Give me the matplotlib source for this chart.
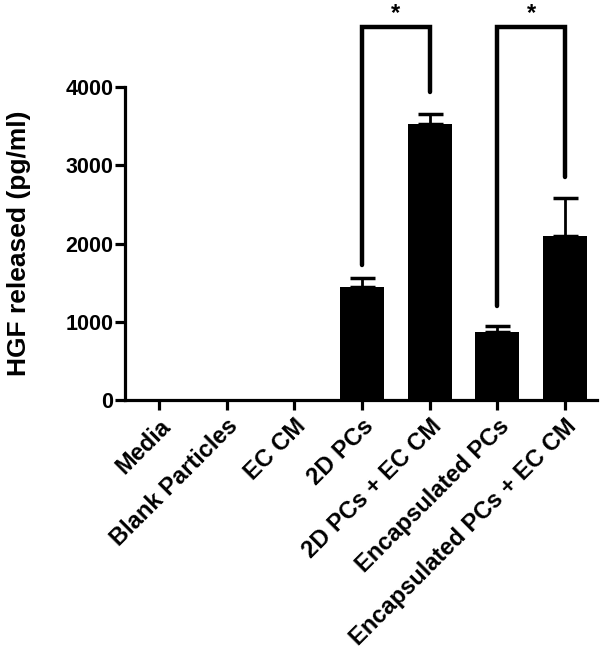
import matplotlib
matplotlib.use("Agg")
import matplotlib.pyplot as plt
import numpy as np

plt.rcParams['font.family'] = ['Liberation Sans', 'DejaVu Sans']
plt.rcParams['font.weight'] = 'bold'

groups = ["Media", "Blank Particles", "EC CM", "2D PCs", "2D PCs + EC CM",
          "Encapsulated PCs", "Encapsulated PCs + EC CM"]
means = [12, 0, 0, 1445, 3530, 870, 2100]
sems = [0, 0, 0, 115, 125, 75, 480]

# significance brackets: (left bar, right bar, left leg end, right leg end)
brackets = [(3, 4, 1720, 3940), (5, 6, 1200, 2850)]
bracket_top = 4760
star_y = 4930

fig = plt.figure(figsize=(6.04, 6.55), dpi=100)
ax = fig.add_axes([0.207, 0.389, 0.781, 0.598])

x = np.arange(len(groups))
ax.bar(x, means, width=0.65, color="black", zorder=2)
ax.errorbar(x[3:], np.array(means[3:]), yerr=[np.zeros(4), np.array(sems[3:])],
            fmt="none", ecolor="black", elinewidth=2, capsize=9, capthick=2.5, zorder=1)

for l, r, yl, yr in brackets:
    ax.plot([x[l], x[l], x[r], x[r]], [yl, bracket_top, bracket_top, yr],
            color="black", lw=3.2, solid_capstyle="round", solid_joinstyle="miter",
            clip_on=False)
    ax.text((x[l] + x[r]) / 2, star_y, "*", ha="center", va="center",
            fontsize=17, fontweight="bold", clip_on=False)

ax.set_xlim(-0.5, 6.47)
ax.set_ylim(0, 5000)
ax.spines["top"].set_visible(False)
ax.spines["right"].set_visible(False)
ax.spines["left"].set_bounds(0, 4000)
for s in ["left", "bottom"]:
    ax.spines[s].set_linewidth(2.3)
ax.set_yticks([0, 1000, 2000, 3000, 4000])
ax.set_xticks(x)
ax.set_xticklabels(groups, rotation=45, ha="right", va="top", rotation_mode="anchor",
                   fontsize=17, fontweight="bold")
ax.tick_params(axis="both", width=2.3, length=7.5, labelsize=15.5, pad=1)
ax.tick_params(axis="x", labelsize=17, pad=3)
for t in ax.get_yticklabels():
    t.set_fontweight("bold")
ax.set_ylabel("HGF released (pg/ml)", fontsize=19, fontweight="bold")
ax.yaxis.set_label_coords(-0.2, 0.40)

fig.savefig("out.png", dpi=100)
